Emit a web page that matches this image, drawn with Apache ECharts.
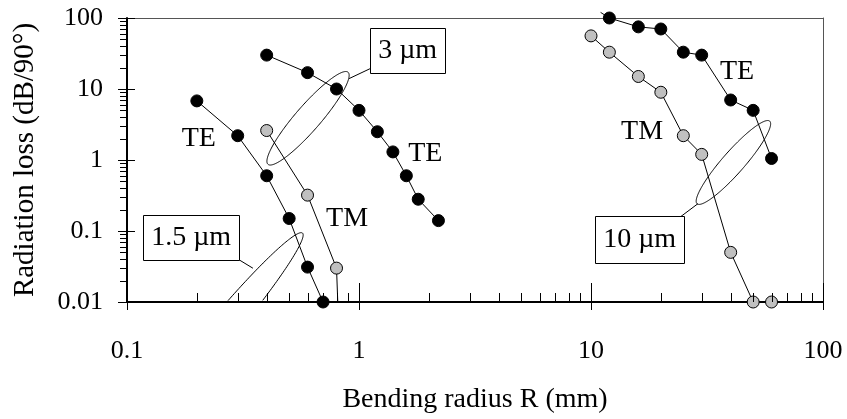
<!DOCTYPE html>
<html>
<head>
<meta charset="utf-8">
<script src="https://cdn.jsdelivr.net/npm/echarts@6/dist/echarts.min.js"></script>
<style>
  html, body { margin: 0; padding: 0; background: #fff; }
  #chart { width: 847px; height: 419px; }
</style>
</head>
<body>
<div id="chart"></div>
<script>
const FONT = '"Liberation Serif", "Times New Roman", serif';

// Bending radius R (mm) against radiation loss (dB/90°), per waveguide width and polarisation.
// A false entry in *_marked means the point only carries the line (no marker drawn).
const te15_R      = [0.2, 0.3, 0.4, 0.5, 0.6, 0.7];
const te15_loss   = [6.8, 2.2, 0.6, 0.15, 0.031, 0.01];
const te15_marked = [true, true, true, true, true, true];

const tm15_R      = [0.4, 0.6, 0.8, 0.81];
const tm15_loss   = [2.6, 0.32, 0.03, 0.01];
const tm15_marked = [true, true, true, false];

const te3_R       = [0.4, 0.6, 0.8, 1.0, 1.2, 1.4, 1.6, 1.8, 2.2];
const te3_loss    = [30, 17, 10, 5, 2.5, 1.3, 0.6, 0.28, 0.14];
const te3_marked  = [true, true, true, true, true, true, true, true, true];

const te10_R      = [11, 12, 16, 20, 25, 30, 40, 50, 60];
const te10_loss   = [120, 100, 75, 70, 33, 30, 7, 5, 1.05];
const te10_marked = [false, true, true, true, true, true, true, true, true];

const tm10_R      = [10, 12, 16, 20, 25, 30, 40, 50, 60];
const tm10_loss   = [56, 33, 15, 9, 2.2, 1.2, 0.05, 0.01, 0.01];
const tm10_marked = [true, true, true, true, true, true, true, true, true];

// Axis ranges and labelled ticks
const xTicks = [0.1, 1, 10, 100];
const yTicks = [0.01, 0.1, 1, 10, 100];

// Curve labels, anchored in data coordinates
const curveLabels = [
  { text: 'TE', at: [0.204, 2.03] },
  { text: 'TM', at: [0.888, 0.15] },
  { text: 'TE', at: [1.93, 1.23] },
  { text: 'TE', at: [42.6, 17.6] },
  { text: 'TM', at: [16.6, 2.54] }
];

// Width call-outs: boxed tag, leader line and the ellipse grouping each pair of curves
const widthTags = [
  { text: '3 µm',   at: [1.62, 35],    w: 75, h: 45, lead: [[0.906, 14.0], [1.115, 19.3]] },
  { text: '1.5 µm', at: [0.189, 0.080], w: 96, h: 45, lead: [[0.292, 0.0426], [0.349, 0.0299]] },
  { text: '10 µm',  at: [16.2, 0.075],  w: 89, h: 47, lead: [[24.4, 0.160], [28.9, 0.2425]] }
];
const outlines = [
  { at: [0.603, 3.87],   a: 61,  b: 12.5, tilt: 49 },
  { at: [0.249, 0.0037], a: 130, b: 14,   tilt: 50 },
  { at: [41.1, 0.923],   a: 55,  b: 11,   tilt: 48.7 }
];

function points(xs, ys, marked) {
  return xs.map((x, i) => ({ value: [x, ys[i]], symbol: marked[i] ? 'circle' : 'none' }));
}

function curve(name, xs, ys, marked, fill) {
  return {
    name: name,
    type: 'line',
    data: points(xs, ys, marked),
    symbol: 'circle',
    symbolSize: 12,
    clip: false,
    lineStyle: { color: '#000', width: 1 },
    itemStyle: { color: fill, borderColor: '#000', borderWidth: 1 },
    emphasis: { disabled: true }
  };
}

const labelFmt = v => String(+(+v).toPrecision(3));

const chart = echarts.init(document.getElementById('chart'), null, { renderer: 'canvas' });

chart.setOption({
  animation: false,
  backgroundColor: '#fff',
  grid: { left: 127, top: 18, width: 696, height: 286, containLabel: false },
  xAxis: [
    {
      type: 'log', logBase: 10, min: xTicks[0], max: xTicks[xTicks.length - 1],
      name: 'Bending radius R (mm)', nameLocation: 'middle', nameGap: 84,
      nameTextStyle: { fontFamily: FONT, fontSize: 28, color: '#000' },
      axisLine: { lineStyle: { color: '#000', width: 2 } },
      axisTick: { show: false },
      splitLine: { show: false },
      axisLabel: { fontFamily: FONT, fontSize: 26, color: '#000', margin: 36, formatter: labelFmt }
    },
    {
      type: 'log', logBase: 10, min: xTicks[0], max: xTicks[xTicks.length - 1], position: 'top',
      axisLine: { lineStyle: { color: '#555', width: 1 } },
      axisTick: { show: false }, axisLabel: { show: false }, splitLine: { show: false }
    }
  ],
  yAxis: [
    {
      type: 'log', logBase: 10, min: yTicks[0], max: yTicks[yTicks.length - 1],
      name: 'Radiation loss (dB/90°)', nameLocation: 'middle', nameGap: 87,
      nameTextStyle: { fontFamily: FONT, fontSize: 29, color: '#000' },
      axisLine: { lineStyle: { color: '#000', width: 2 } },
      axisTick: { show: false },
      splitLine: { show: false },
      axisLabel: { fontFamily: FONT, fontSize: 26, color: '#000', margin: 24, formatter: labelFmt }
    },
    {
      type: 'log', logBase: 10, min: yTicks[0], max: yTicks[yTicks.length - 1], position: 'right',
      axisLine: { lineStyle: { color: '#555', width: 1 } },
      axisTick: { show: false }, axisLabel: { show: false }, splitLine: { show: false }
    }
  ],
  series: [
    curve('TE 1.5 µm', te15_R, te15_loss, te15_marked, '#000'),
    curve('TM 1.5 µm', tm15_R, tm15_loss, tm15_marked, '#c0c0c0'),
    curve('TE 3 µm',   te3_R,  te3_loss,  te3_marked,  '#000'),
    curve('TE 10 µm',  te10_R, te10_loss, te10_marked, '#000'),
    curve('TM 10 µm',  tm10_R, tm10_loss, tm10_marked, '#c0c0c0')
  ]
});

// Log-scale tick marks and annotations, positioned through the axes' own scales
const px = v => chart.convertToPixel({ xAxisIndex: 0 }, v);
const py = v => chart.convertToPixel({ yAxisIndex: 0 }, v);
const toPix = p => [px(p[0]), py(p[1])];

const xLeft = px(xTicks[0]);
const yBottom = py(yTicks[0]);
const gfx = [];
const tickStyle = { stroke: '#000', lineWidth: 1 };

function decadeTicks(ticks, fn) {
  for (let i = 0; i < ticks.length; i++) {
    const base = ticks[i];
    if (i === ticks.length - 1) { fn(base, true); break; }
    for (let k = 1; k <= 9; k++) fn(base * k, k === 1);
  }
}

decadeTicks(yTicks, (v, major) => {
  const y = Math.round(py(v)) + 0.5;
  gfx.push({ type: 'line', silent: true, z: 5,
    shape: major ? { x1: xLeft - 9, y1: y, x2: xLeft + 8, y2: y } : { x1: xLeft - 7, y1: y, x2: xLeft, y2: y },
    style: tickStyle });
});
decadeTicks(xTicks, (v, major) => {
  const x = Math.round(px(v)) + 0.5;
  gfx.push({ type: 'line', silent: true, z: 5,
    shape: major ? { x1: x, y1: yBottom - 19, x2: x, y2: yBottom + 8 } : { x1: x, y1: yBottom - 9, x2: x, y2: yBottom },
    style: tickStyle });
});

// Ellipses, cut at the plot frame
outlines.forEach(o => {
  const c = toPix(o.at);
  const t = o.tilt * Math.PI / 180;
  const n = 240;
  const pts = [];
  for (let i = 0; i < n; i++) {
    const th = i / n * Math.PI * 2;
    const ex = o.a * Math.cos(th), ey = o.b * Math.sin(th);
    pts.push([c[0] + ex * Math.cos(t) + ey * Math.sin(t), c[1] - ex * Math.sin(t) + ey * Math.cos(t)]);
  }
  const inside = p => p[1] <= yBottom && p[0] >= xLeft;
  let start = pts.findIndex(p => !inside(p));
  if (start < 0) {
    gfx.push({ type: 'polygon', silent: true, z: 3, shape: { points: pts }, style: { fill: 'none', stroke: '#000', lineWidth: 1 } });
    return;
  }
  let run = [];
  for (let j = 1; j <= n; j++) {
    const p = pts[(start + j) % n];
    if (inside(p)) run.push(p);
    else if (run.length) {
      gfx.push({ type: 'polyline', silent: true, z: 3, shape: { points: run }, style: { fill: 'none', stroke: '#000', lineWidth: 1 } });
      run = [];
    }
  }
  if (run.length) gfx.push({ type: 'polyline', silent: true, z: 3, shape: { points: run }, style: { fill: 'none', stroke: '#000', lineWidth: 1 } });
});

// Boxed width tags with leader lines
widthTags.forEach(tag => {
  const a = toPix(tag.lead[0]), b = toPix(tag.lead[1]);
  gfx.push({ type: 'line', silent: true, z: 3, shape: { x1: a[0], y1: a[1], x2: b[0], y2: b[1] }, style: { stroke: '#000', lineWidth: 1 } });
  const c = toPix(tag.at);
  gfx.push({ type: 'rect', silent: true, z: 6,
    shape: { x: Math.round(c[0] - tag.w / 2) + 0.5, y: Math.round(c[1] - tag.h / 2) + 0.5, width: tag.w, height: tag.h },
    style: { fill: '#fff', stroke: '#000', lineWidth: 1 } });
  gfx.push({ type: 'text', silent: true, z: 7, x: c[0], y: c[1],
    style: { text: tag.text, fontFamily: FONT, fontSize: 28, fill: '#000',
             align: 'center', verticalAlign: 'middle', textAlign: 'center', textVerticalAlign: 'middle' } });
});

curveLabels.forEach(l => {
  const c = toPix(l.at);
  gfx.push({ type: 'text', silent: true, z: 7, x: c[0], y: c[1],
    style: { text: l.text, fontFamily: FONT, fontSize: 28, fill: '#000',
             align: 'center', verticalAlign: 'middle', textAlign: 'center', textVerticalAlign: 'middle' } });
});

chart.setOption({ graphic: { elements: gfx } });
</script>
</body>
</html>
